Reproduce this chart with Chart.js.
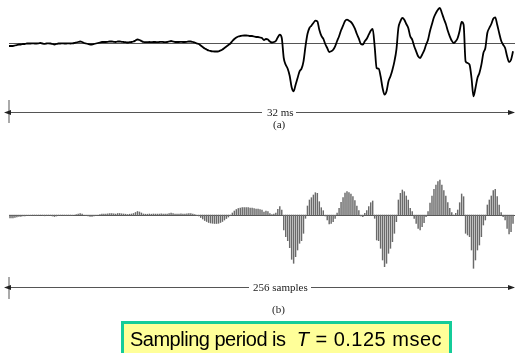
<!DOCTYPE html>
<html>
<head>
<meta charset="utf-8">
<script src="https://cdn.jsdelivr.net/npm/chart.js@4/dist/chart.umd.min.js"></script>
<style>
  html, body { margin: 0; padding: 0; background: #fff; }
  #wrap { position: relative; width: 515px; height: 353px; overflow: hidden; background: #fff; }
  canvas { position: absolute; left: 0; }
  #cA { top: 0; }
  #cB { top: 170px; }
  .lbl { position: absolute; font-family: "Liberation Serif", "Times New Roman", serif; font-size: 11px; color: #222; white-space: nowrap; line-height: 11px; }
  #box { position: absolute; left: 121px; top: 321px; width: 325px; height: 40px; background: #ffff99; border: 3px solid #14cc99; box-sizing: content-box; }
  #boxtxt { position: absolute; left: 6px; top: 5px; font-family: "Liberation Sans", Arial, sans-serif; font-size: 20px; color: #000; white-space: nowrap; line-height: 20px; }
  svg { position: absolute; left: 0; top: 0; }
</style>
</head>
<body>
<div id="wrap">
  <canvas id="cA" width="515" height="110"></canvas>
  <canvas id="cB" width="515" height="110"></canvas>
  <svg width="515" height="353">
    <defs>
      <marker id="ah" markerWidth="7" markerHeight="5" refX="6" refY="2.5" orient="auto" markerUnits="userSpaceOnUse">
        <path d="M0,0 L7,2.5 L0,5 z" fill="#222"/>
      </marker>
      <marker id="ahs" markerWidth="7" markerHeight="5" refX="1" refY="2.5" orient="auto-start-reverse" markerUnits="userSpaceOnUse">
        <path d="M0,0 L7,2.5 L0,5 z" fill="#222"/>
      </marker>
    </defs>
    <line x1="9" y1="100" x2="9" y2="123" stroke="#aaa" stroke-width="2"/>
    <line x1="10" y1="112.5" x2="262" y2="112.5" stroke="#555" stroke-width="1" marker-start="url(#ahs)"/>
    <line x1="296" y1="112.5" x2="514" y2="112.5" stroke="#555" stroke-width="1" marker-end="url(#ah)"/>
    <line x1="9" y1="277" x2="9" y2="299" stroke="#aaa" stroke-width="2"/>
    <line x1="10" y1="287.5" x2="249" y2="287.5" stroke="#555" stroke-width="1" marker-start="url(#ahs)"/>
    <line x1="311" y1="287.5" x2="514" y2="287.5" stroke="#555" stroke-width="1" marker-end="url(#ah)"/>
  </svg>
  <div class="lbl" style="left:267px; top:107px;">32 ms</div>
  <div class="lbl" style="left:273px; top:119px;">(a)</div>
  <div class="lbl" style="left:253px; top:282px;">256 samples</div>
  <div class="lbl" style="left:272px; top:304px;">(b)</div>
  <div id="box"><div id="boxtxt"><span style="letter-spacing:-0.5px">Sampling period is</span>&nbsp; <span style="letter-spacing:0.5px"><i>T</i> = 0.125 msec</span></div></div>
</div>
<script>
// Speech waveform: 256 samples (amplitude in arbitrary units)
const samples = [
  -3, -3, -3, -2.5, -2, -1.5, -1.5, -1, -1, -0.5,
  -0.5, -0.5, -0.3, -0.5, -0.5, -0.3, 0, -0.5, -0.8, -0.5,
  -0.3, -0.5, -1, -1.5, -1, -0.5, -0.5, -0.3, -0.5, -0.5,
  -0.3, -0.5, -0.3, 0, 0.5, 1, 1.5, 1, 0, -0.5,
  -1, -1.5, -1.5, -1, -0.5, 0, 0.5, 1, 1, 1,
  1.2, 1.5, 1.5, 1.2, 1, 1.5, 1.5, 1.2, 1, 0.8,
  0.5, 0.8, 1, 1.5, 2.5, 3.5, 3, 2, 1, 0.8,
  0.8, 1, 0.8, 1, 1, 0.8, 1, 1.2, 1, 0.8,
  1, 1.5, 2, 1.5, 1, 1, 1, 1.2, 1, 1,
  1.2, 1.5, 1.5, 1, 0.5, -0.5, -1, -2.5, -4, -5.5,
  -6.5, -7.5, -8, -8.3, -8.5, -8.5, -8.3, -7.5, -6.5, -5,
  -3.5, -2, -0.5, 2, 4, 5.5, 6.5, 7, 7.3, 7.5,
  7.5, 7.3, 7, 7, 6.5, 6, 6, 5.5, 5, 3,
  4, 3.5, 1.5, 0.5, 1, 2, 5.7, 8.3, 5, -15,
  -21.7, -25.7, -32.7, -44.3, -48.3, -41.7, -35, -28.3, -25.7, -18.3,
  -3.3, 9, 15, 17.3, 20, 22.3, 21.7, 13.3, 7.3, 4.3,
  -1, -5, -9, -8.3, -6.7, -3.3, 2, 6.7, 12.7, 17.3,
  22, 23.3, 22.3, 21, 18.3, 14.3, 9, 4.3, -1, -1.7,
  1.7, 4.3, 8.3, 12.3, 14, -3.3, -25, -25.7, -33.3, -45,
  -51.7, -48.3, -38.3, -33.3, -26.7, -18.3, -6.7, 15, 21.7, 25,
  23.3, 19, 15, 6.7, 3.3, -3.3, -8.3, -13.3, -15, -11.7,
  -7.7, -1.7, 3.3, 12, 19, 25.7, 30, 33.3, 35, 30,
  24.3, 19, 12.3, 6.7, 2.3, 0, 1.7, 5, 12.3, 21,
  18.3, -18.3, -20, -21.7, -35, -53.3, -45, -35, -30, -21.7,
  -10, -5, 10, 15, 19, 24.3, 25.7, 18.3, 10, 2.3,
  -1.7, -5, -13.3, -19, -16.7, -8.3
];
const sampleIndex = samples.map((_, i) => i);
const numSamples = 256;

const zeroLine = {
  id: 'zeroLine',
  beforeDatasetsDraw(chart, args, opts) {
    const { ctx, chartArea, scales } = chart;
    const y = Math.round(scales.y.getPixelForValue(0)) + 0.5;
    ctx.save();
    ctx.strokeStyle = opts.color || '#555';
    ctx.lineWidth = 1;
    ctx.beginPath();
    ctx.moveTo(chartArea.left, y);
    ctx.lineTo(chartArea.right, y);
    ctx.stroke();
    ctx.restore();
  }
};

const pts = sampleIndex.map(i => ({ x: i, y: samples[i] }));

new Chart(document.getElementById('cA'), {
  type: 'line',
  data: { datasets: [{ data: pts, borderColor: '#000', borderWidth: 1.8, pointRadius: 0, cubicInterpolationMode: 'monotone', fill: false }] },
  options: {
    responsive: false, animation: false, events: [],
    layout: { padding: { left: 9, right: 0, top: 0, bottom: 0 } },
    plugins: { legend: { display: false }, tooltip: { enabled: false }, zeroLine: { color: '#555' } },
    scales: {
      x: { type: 'linear', min: 0, max: numSamples, display: false },
      y: { min: -67, max: 43, display: false }
    }
  },
  plugins: [zeroLine]
});

new Chart(document.getElementById('cB'), {
  type: 'bar',
  data: { datasets: [{ data: pts, backgroundColor: '#6a6a6a', borderWidth: 0, barThickness: 0.8 }] },
  options: {
    responsive: false, animation: false, events: [],
    layout: { padding: { left: 9, right: 0, top: 0, bottom: 0 } },
    plugins: { legend: { display: false }, tooltip: { enabled: false }, zeroLine: { color: '#555' } },
    scales: {
      x: { type: 'linear', min: 0, max: numSamples, display: false, offset: false },
      y: { min: -65, max: 45, display: false }
    }
  },
  plugins: [zeroLine]
});
</script>
</body>
</html>
